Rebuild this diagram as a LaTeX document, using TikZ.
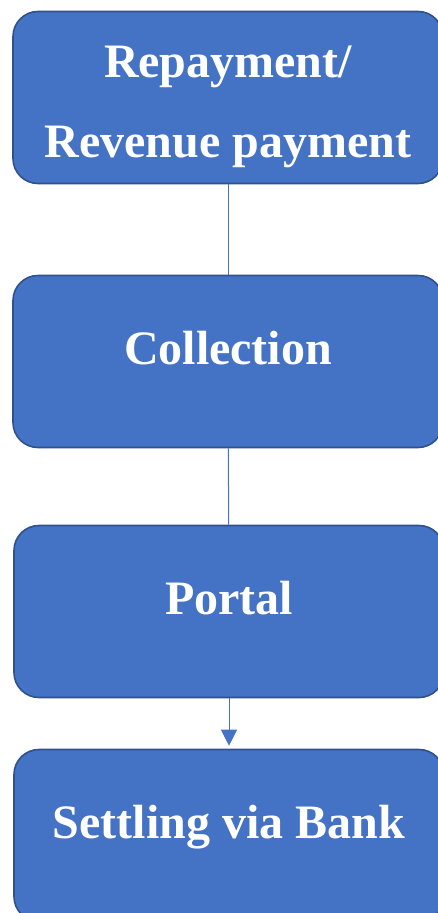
\documentclass[tikz,border=0pt]{standalone}
\usepackage{fontspec}
\setmainfont{Liberation Serif}
\usetikzlibrary{arrows.meta}
\definecolor{blue1}{HTML}{4472C4}
\definecolor{blue2}{HTML}{2F528F}

\begin{document}
\begin{tikzpicture}[x=1pt,y=-1pt,
  stage/.style={draw=blue2, line width=1.6pt, fill=blue1, rounded corners=25pt,
    minimum width=430pt, minimum height=172pt, text=white, align=center,
    font=\fontsize{48}{80}\selectfont\bfseries, text height=38pt, text depth=32pt},
  link/.style={draw=blue1, line width=1pt}]
\useasboundingbox (0,0) rectangle (437,913);
\node[stage, text height=129pt, text depth=10pt] (repay) at (228,97.5) {Repayment/\\Revenue payment};
\node[stage] (collect) at (228,361.5) {Collection};
\node[stage] (portal) at (229,611.5) {Portal};
\node[stage] (settle) at (229,835.5) {Settling via Bank};
\draw[link] (repay) -- (collect);
\draw[link] (collect) -- (portal);
\draw[link, -{Triangle[length=16pt,width=16pt]}, shorten >=3pt] (portal) -- (settle);
\end{tikzpicture}
\end{document}
